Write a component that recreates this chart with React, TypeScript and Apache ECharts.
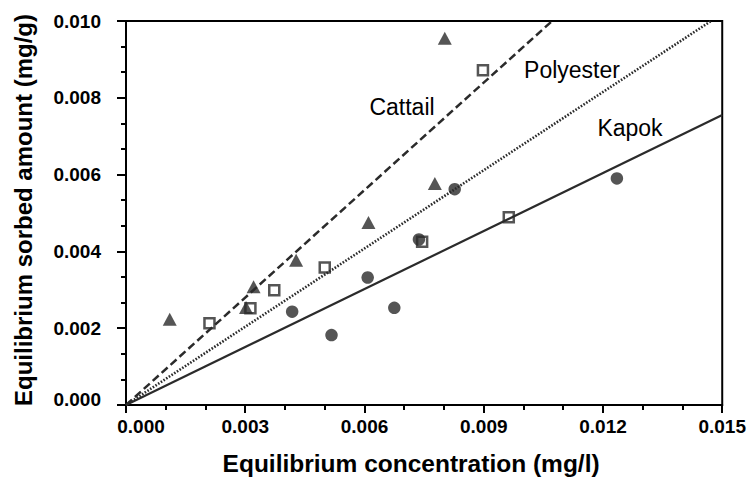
import React, { useEffect, useRef } from "react";
import * as echarts from "echarts";

// Equilibrium concentration (mg/l) vs sorbed amount (mg/g)
const cattailPoints: [number, number][] = [
  [0.0011, 0.00223],
  [0.00302, 0.00254],
  [0.00321, 0.00308],
  [0.00428, 0.00377],
  [0.0061, 0.00475],
  [0.00777, 0.00577],
  [0.00802, 0.00955],
];
const polyesterPoints: [number, number][] = [
  [0.0021, 0.00213],
  [0.00313, 0.00252],
  [0.00373, 0.00299],
  [0.005, 0.00358],
  [0.00745, 0.00425],
  [0.00898, 0.00872],
  [0.00963, 0.00489],
];
const kapokPoints: [number, number][] = [
  [0.00418, 0.00243],
  [0.00517, 0.00182],
  [0.00608, 0.00332],
  [0.00675, 0.00253],
  [0.00737, 0.00431],
  [0.00827, 0.00562],
  [0.01235, 0.0059],
];

// Linear fits through the origin (end points of each fitted line)
const cattailFit: [number, number][] = [
  [0, 0],
  [0.01072, 0.01],
];
const polyesterFit: [number, number][] = [
  [0, 0],
  [0.01472, 0.01],
];
const kapokFit: [number, number][] = [
  [0, 0],
  [0.015, 0.00755],
];

const xTitle = "Equilibrium concentration (mg/l)";
const yTitle = "Equilibrium sorbed amount (mg/g)";
const seriesNames = ["Cattail", "Polyester", "Kapok"];

const FONT = "'Liberation Sans', Arial, Helvetica, sans-serif";
const INK = "#2b2b2b";

export default function App() {
  const ref = useRef<HTMLDivElement>(null);

  useEffect(() => {
    document.body.style.margin = "0";
    const chart = echarts.init(ref.current!, null, { renderer: "svg" });

    const tickLabel = {
      fontFamily: FONT,
      fontWeight: "bold" as const,
      fontSize: 19,
      color: "#000",
    };

    const annotation = (text: string, x: number, y: number) => ({
      type: "text",
      x,
      y,
      style: {
        text,
        fontFamily: FONT,
        fontSize: 23,
        fill: "#000",
        textAlign: "center",
        textVerticalAlign: "middle",
      },
    });

    chart.setOption({
      animation: false,
      backgroundColor: "#fff",
      grid: {
        left: 126,
        right: 24,
        top: 21,
        bottom: 82,
        show: true,
        borderColor: "#000",
        borderWidth: 2,
        backgroundColor: "transparent",
      },
      xAxis: {
        type: "value",
        min: 0,
        max: 0.015,
        interval: 0.003,
        name: xTitle,
        nameLocation: "middle",
        nameGap: 46,
        nameTextStyle: {
          fontFamily: FONT,
          fontWeight: "bold",
          fontSize: 24.5,
          color: "#000",
          padding: [0, 26, 0, 0],
        },
        axisLine: { lineStyle: { color: "#000", width: 2 } },
        axisTick: { length: 8, lineStyle: { color: "#000", width: 2 } },
        minorTick: {
          show: true,
          splitNumber: 3,
          length: 5,
          lineStyle: { color: "#000", width: 2 },
        },
        splitLine: { show: false },
        axisLabel: {
          ...tickLabel,
          margin: 12,
          formatter: (v: number, i: number) =>
            i === 0 ? "{first|" + v.toFixed(3) + "}" : v.toFixed(3),
          rich: {
            first: { ...tickLabel, padding: [0, 0, 0, 30] },
          },
        },
      },
      yAxis: {
        type: "value",
        min: 0,
        max: 0.01,
        interval: 0.002,
        axisLine: { lineStyle: { color: "#000", width: 2 } },
        axisTick: { length: 9, lineStyle: { color: "#000", width: 2 } },
        minorTick: {
          show: true,
          splitNumber: 3,
          length: 5,
          lineStyle: { color: "#000", width: 2 },
        },
        splitLine: { show: false },
        axisLabel: {
          ...tickLabel,
          margin: 25,
          formatter: (v: number, i: number) =>
            i === 0 ? "{first|" + v.toFixed(3) + "}" : v.toFixed(3),
          rich: {
            first: { ...tickLabel, padding: [0, 0, 12, 0] },
          },
        },
      },
      graphic: [
        {
          // vertical axis title, longer than the plot height
          type: "text",
          x: 23,
          y: 210,
          rotation: Math.PI / 2,
          style: {
            text: yTitle,
            fontFamily: FONT,
            fontWeight: "bold",
            fontSize: 24,
            fill: "#000",
            textAlign: "center",
            textVerticalAlign: "middle",
          },
        },
        annotation(seriesNames[0], 402, 107),
        annotation(seriesNames[1], 572, 70),
        annotation(seriesNames[2], 630, 128),
      ],
      series: [
        {
          name: "Cattail fit",
          type: "line",
          data: cattailFit,
          symbol: "none",
          clip: true,
          lineStyle: { color: INK, width: 2.5, type: [8, 4] },
          z: 2,
        },
        {
          name: "Polyester fit",
          type: "line",
          data: polyesterFit,
          symbol: "none",
          clip: true,
          lineStyle: { color: INK, width: 2.6, type: [1.6, 1.6] },
          z: 2,
        },
        {
          name: "Kapok fit",
          type: "line",
          data: kapokFit,
          symbol: "none",
          clip: true,
          lineStyle: { color: INK, width: 2.2 },
          z: 2,
        },
        {
          name: seriesNames[0],
          type: "scatter",
          data: cattailPoints,
          symbol: "triangle",
          symbolSize: [14, 13],
          itemStyle: { color: INK },
          z: 3,
        },
        {
          name: seriesNames[1],
          type: "scatter",
          data: polyesterPoints,
          symbol: "rect",
          symbolSize: 10,
          itemStyle: {
            color: "rgba(255,255,255,0)",
            borderColor: INK,
            borderWidth: 2.5,
          },
          z: 4,
        },
        {
          name: seriesNames[2],
          type: "scatter",
          data: kapokPoints,
          symbol: "circle",
          symbolSize: 12.5,
          itemStyle: { color: INK },
          z: 5,
        },
      ],
    });

    return () => chart.dispose();
  }, []);

  return <div ref={ref} style={{ width: 749, height: 487 }} />;
}
